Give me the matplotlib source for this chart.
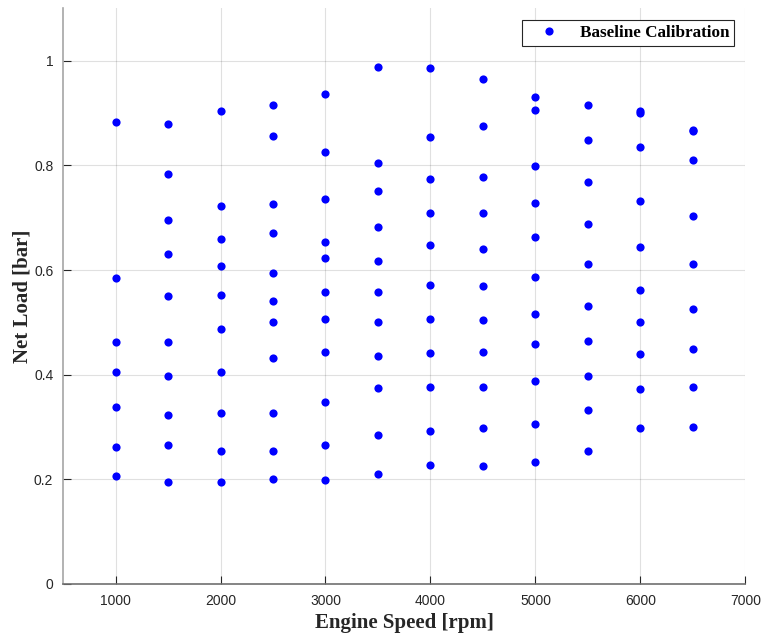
import matplotlib.pyplot as plt

# Engine speeds of the calibration sweep and the net load points measured at each
SPEEDS = [1000, 1500, 2000, 2500, 3000, 3500, 4000, 4500, 5000, 5500, 6000, 6500]

LOAD_1000 = [0.884, 0.584, 0.463, 0.405, 0.338, 0.261, 0.207]
LOAD_1500 = [0.879, 0.784, 0.696, 0.630, 0.551, 0.462, 0.398, 0.323, 0.265, 0.195]
LOAD_2000 = [0.904, 0.722, 0.659, 0.608, 0.553, 0.487, 0.405, 0.326, 0.254, 0.195]
LOAD_2500 = [0.916, 0.857, 0.726, 0.670, 0.595, 0.540, 0.500, 0.431, 0.326, 0.254, 0.200]
LOAD_3000 = [0.937, 0.826, 0.735, 0.654, 0.624, 0.558, 0.507, 0.444, 0.348, 0.265, 0.198]
LOAD_3500 = [0.989, 0.804, 0.751, 0.682, 0.618, 0.558, 0.500, 0.436, 0.375, 0.284, 0.210]
LOAD_4000 = [0.987, 0.854, 0.774, 0.710, 0.647, 0.571, 0.506, 0.442, 0.376, 0.293, 0.228]
LOAD_4500 = [0.966, 0.875, 0.777, 0.710, 0.640, 0.569, 0.504, 0.444, 0.377, 0.298, 0.225]
LOAD_5000 = [0.930, 0.906, 0.798, 0.728, 0.663, 0.586, 0.517, 0.459, 0.388, 0.305, 0.233]
LOAD_5500 = [0.915, 0.849, 0.768, 0.688, 0.612, 0.531, 0.465, 0.397, 0.332, 0.255]
LOAD_6000 = [0.905, 0.901, 0.835, 0.733, 0.644, 0.561, 0.500, 0.439, 0.373, 0.298]
LOAD_6500 = [0.868, 0.866, 0.810, 0.703, 0.612, 0.525, 0.450, 0.377, 0.300]

LOADS = [LOAD_1000, LOAD_1500, LOAD_2000, LOAD_2500, LOAD_3000, LOAD_3500,
         LOAD_4000, LOAD_4500, LOAD_5000, LOAD_5500, LOAD_6000, LOAD_6500]

X_TICKS = [1000, 2000, 3000, 4000, 5000, 6000, 7000]
Y_TICKS = [0, 0.2, 0.4, 0.6, 0.8, 1.0]
Y_TICK_LABELS = ['0', '0.2', '0.4', '0.6', '0.8', '1']

TEXT_GRAY = '#262626'
SERIF = ['Liberation Serif', 'DejaVu Serif']
SANS = ['Liberation Sans', 'DejaVu Sans']

# flatten the sweep into scatter coordinates
xs, ys = [], []
for speed, loads in zip(SPEEDS, LOADS):
    xs.extend([speed] * len(loads))
    ys.extend(loads)

fig = plt.figure(figsize=(7.62, 6.39), dpi=100)
ax = fig.add_axes([0.0827, 0.0861, 0.8956, 0.9006])

ax.plot(xs, ys, linestyle='none', marker='o', markersize=5.9,
        color='#0000FF', markeredgewidth=0, label='Baseline Calibration')

ax.set_xlim(500, 7000)
ax.set_ylim(0, 1.1)
ax.set_xticks(X_TICKS)
ax.set_yticks(Y_TICKS)
ax.set_yticklabels(Y_TICK_LABELS)

ax.grid(True, color='#000000', alpha=0.12, linewidth=0.8)
ax.set_axisbelow(True)

ax.tick_params(direction='in', length=6, width=0.8, colors=TEXT_GRAY,
               labelsize=10, pad=7)
for lbl in ax.get_xticklabels() + ax.get_yticklabels():
    lbl.set_family(SANS)

ax.spines['top'].set_visible(False)
ax.spines['right'].set_visible(False)
ax.spines['left'].set_color('#a6a6a6')
ax.spines['left'].set_linewidth(1.2)
ax.spines['bottom'].set_color('#707070')
ax.spines['bottom'].set_linewidth(1.2)

ax.set_xlabel('Engine Speed [rpm]', family=SERIF, fontweight='bold',
              fontsize=15, color=TEXT_GRAY, labelpad=4)
ax.set_ylabel('Net Load [bar]', family=SERIF, fontweight='bold',
              fontsize=15, color=TEXT_GRAY, labelpad=1)

leg = ax.legend(loc='upper right', bbox_to_anchor=(0.983, 0.980),
                borderaxespad=0,
                prop={'family': SERIF, 'weight': 'bold', 'size': 12.3},
                fancybox=False, framealpha=1, edgecolor=TEXT_GRAY,
                borderpad=0.28, handletextpad=0.5, handlelength=2.6)
leg.get_frame().set_linewidth(0.8)

fig.savefig('out.png', dpi=100, facecolor='white')
